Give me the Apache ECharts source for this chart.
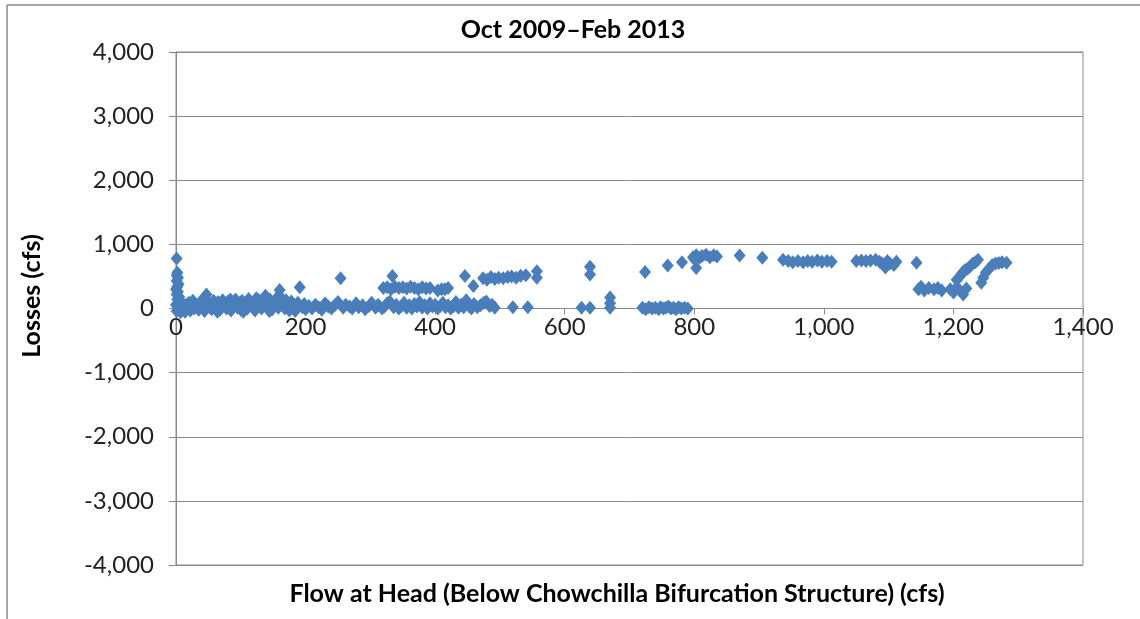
<!DOCTYPE html>
<html>
<head>
<meta charset="utf-8">
<script src="https://cdn.jsdelivr.net/npm/echarts@6/dist/echarts.min.js"></script>
<style>
html,body{margin:0;padding:0;background:#fff;}
#chart{width:1140px;height:619px;}
</style>
</head>
<body>
<div id="chart"></div>
<script>
// Chart texts
const chartTitle = 'Oct 2009\u2013Feb 2013';
const xTitle = 'Flow at Head (Below Chowchilla Bifurcation Structure) (cfs)';
const yTitle = 'Losses (cfs)';

// Axis ranges / ticks
const xTicks = [0, 200, 400, 600, 800, 1000, 1200, 1400];
const yTicks = [-4000, -3000, -2000, -1000, 0, 1000, 2000, 3000, 4000];

// Data: [flow (cfs), losses (cfs)]
const stackAtZero = [
  [1,780],[2,560],[1,520],[3,480],[1,430],[4,380],[2,340],[0,300],[3,260],[1,220],
  [5,180],[2,140],[4,100],[0,60],[3,20],[6,-20],[1,-40],[8,40],[6,120],[7,-60]
];
const lowBandA = [
  [10,30],[12,-10],[15,60],[18,10],[20,90],[22,-30],[25,40],[28,0],[30,70],[33,20],
  [35,-20],[38,110],[40,50],[42,0],[45,150],[47,220],[50,80],[52,20],[55,-10],[58,120],
  [60,60],[62,10],[65,100],[68,-20],[70,40],[72,130],[75,70],[78,0],[80,110],[82,30],
  [85,-30],[88,90],[90,50],[92,140],[95,10],[98,80],[100,-20],[102,120],[105,40],[108,90],
  [110,0],[112,150],[115,60],[118,20],[120,100],[122,-30],[125,70],[128,130],[130,30],[132,0],
  [135,110],[138,200],[140,60],[142,20],[145,140],[148,-20],[150,80],[152,40],[155,160],[158,10],
  [160,290],[162,100],[165,50],[168,0],[170,130],[172,70],[175,-30],[178,110],[180,30],[182,60],
  [185,0],[188,90],[191,330],[195,20],[198,70],[200,-10],
  [14,-50],[26,120],[44,-40],[64,-50],[84,140],[104,-50],[124,160],[144,-40],[164,150],[184,-40]
];
const lowBandB = [
  [205,40],[210,0],[215,60],[220,20],[225,-20],[230,80],[235,30],[240,0],[245,50],[250,100],
  [258,10],[262,60],[268,30],[272,0],[278,80],[282,20],[288,50],[292,-10],[298,40],[302,90],
  [308,10],[312,60],[318,0],[322,30],[326,80],[330,110],[336,20],[340,60],[344,0],[348,40],
  [352,90],[356,10],[360,50],[364,0],[368,70],[372,30],[376,100],[380,10],[384,50],[388,0],
  [392,80],[396,30],[400,60],[404,0],[408,40],[412,90],[416,20],[420,50],[424,0],[428,30],
  [432,100],[436,10],[440,60],[444,20],[448,130],[452,40],[456,0],[460,70],[465,20],[470,50],
  [475,90],[479,110],[484,40],[488,60],[492,10],[520,20],[543,20]
];
const midBranch = [
  [254,470],[334,505],[320,320],[326,330],[332,300],[338,340],[344,320],[350,330],[356,310],[362,340],
  [368,320],[374,300],[380,330],[386,310],[392,320],[404,280],[410,300],[415,300],[420,320],[446,505],
  [459,350],[474,470],[480,450],[486,490],[492,460],[498,480],[505,470],[512,490],[518,500],[525,480],
  [532,510],[540,520],[557,580],[557,480]
];
const lowBandC = [
  [626,10],[639,10],[670,170],[670,80],[670,10],[720,10],[725,-10],[730,20],[735,0],[740,10],
  [745,-10],[748,20],[752,0],[756,10],[760,30],[764,0],[768,10],[772,-10],[776,20],[780,0],
  [785,10],[790,0]
];
const highBranch = [
  [639,650],[639,530],[724,570],[759,670],[781,720],[803,630],[798,800],[800,770],[803,830],[808,790],
  [812,820],[818,840],[824,800],[830,830],[835,810],[870,826],[905,790],
  [937,760],[945,740],[952,720],[960,740],[968,720],[975,740],[982,730],[990,750],[997,730],[1005,740],[1012,730],
  [1050,740],[1058,750],[1065,740],[1072,750],[1080,760],[1086,730],[1090,700],[1095,640],[1098,740],[1102,700],
  [1108,680],[1112,730],[1143,712]
];
const lateCluster = [
  [1146,300],[1150,340],[1155,280],[1162,320],[1170,300],[1176,320],[1182,280],[1195,300],[1200,250],[1205,330],
  [1210,280],[1215,220],[1220,310],
  [1205,450],[1210,500],[1214,560],[1218,600],[1222,620],[1226,660],[1230,700],[1234,720],[1238,760],
  [1243,400],[1246,480],[1250,560],[1255,620],[1260,680],[1265,700],[1270,710],[1275,720],[1282,712]
];

const allPoints = [].concat(stackAtZero, lowBandA, lowBandB, midBranch, lowBandC, highBranch, lateCluster);

const FONT = 'Lato, "Noto Sans", sans-serif';
const fmt = v => v.toLocaleString('en-US');

const GRID_TOP = 52, GRID_H = 513;

const chart = echarts.init(document.getElementById('chart'), null, {renderer: 'canvas'});
chart.setOption({
  animation: false,
  backgroundColor: '#fff',
  title: {
    text: chartTitle,
    left: 568, top: 12, textAlign: 'center',
    textStyle: {fontFamily: FONT, fontSize: 25, fontWeight: 'bold', color: '#000'}
  },
  grid: {
    left: 176, top: GRID_TOP, width: 907, height: GRID_H,
    show: true, borderColor: '#8a8a8a', borderWidth: 1, backgroundColor: 'transparent'
  },
  xAxis: {
    type: 'value',
    min: xTicks[0], max: xTicks[xTicks.length - 1], interval: 200,
    position: 'bottom',
    offset: -GRID_H / 2,
    axisLine: {show: true, onZero: false, lineStyle: {color: '#8a8a8a', width: 1}},
    axisTick: {show: true, inside: false, length: 6, lineStyle: {color: '#8a8a8a'}},
    splitLine: {show: false},
    axisLabel: {
      fontFamily: FONT, fontSize: 24, color: '#222', margin: 7,
      formatter: v => fmt(v)
    }
  },
  yAxis: {
    type: 'value',
    min: yTicks[0], max: yTicks[yTicks.length - 1], interval: 1000,
    axisLine: {show: true, lineStyle: {color: '#8a8a8a', width: 1}},
    axisTick: {show: true, inside: false, length: 7, lineStyle: {color: '#8a8a8a'}},
    splitLine: {show: true, lineStyle: {color: '#8a8a8a', width: 1}},
    axisLabel: {
      fontFamily: FONT, fontSize: 24, color: '#222', margin: 22,
      formatter: v => fmt(v)
    }
  },
  graphic: [
    {type: 'line', shape: {x1: 7, y1: 5, x2: 7, y2: 619}, style: {stroke: '#8a8a8a', lineWidth: 1.5}},
    {type: 'line', shape: {x1: 7, y1: 5, x2: 1140, y2: 5}, style: {stroke: '#8a8a8a', lineWidth: 1.5}},
    {type: 'text', x: 617, y: 594,
      style: {text: xTitle, font: 'bold 25px ' + FONT, fill: '#000', textAlign: 'center', textVerticalAlign: 'middle'}},
    {type: 'text', x: 32, y: 296, rotation: Math.PI / 2,
      style: {text: yTitle, font: 'bold 25px ' + FONT, fill: '#000', textAlign: 'center', textVerticalAlign: 'middle'}}
  ],
  series: [{
    type: 'scatter',
    data: allPoints,
    symbol: 'diamond',
    symbolSize: [12, 14],
    itemStyle: {color: '#4a7ebb', opacity: 1}
  }]
});
</script>
</body>
</html>
